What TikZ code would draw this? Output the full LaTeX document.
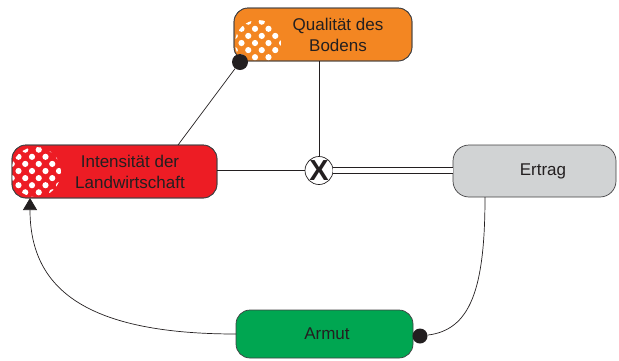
\documentclass[tikz,border=0pt]{standalone}
\usepackage{fontspec}
\setmainfont{Liberation Sans}
\usetikzlibrary{arrows.meta,calc}

\definecolor{orangeC}{RGB}{243,134,34}
\definecolor{redC}{RGB}{237,28,36}
\definecolor{grayC}{RGB}{209,211,212}
\definecolor{greenC}{RGB}{0,166,81}
\definecolor{edgeC}{RGB}{65,64,66}
\definecolor{inkC}{RGB}{35,31,32}

\begin{document}
\begin{tikzpicture}[x=1pt,y=-1pt,
  box/.style={draw=edgeC, line width=0.7pt, rounded corners=14pt, outer sep=0pt, inner sep=0pt},
  txt/.style={font=\fontsize{17}{21}\selectfont, text=inkC, align=center},
  conn/.style={draw=inkC, line width=0.7pt},
  blob/.style={circle, fill=inkC, inner sep=0pt, minimum size=16pt},
  polka/.style={white}
]
\useasboundingbox (0,0) rectangle (619,360);

% boxes
\node[box, fill=orangeC, minimum width=178pt, minimum height=53pt] (qual) at (323,34.5) {};
\node[box, fill=redC, minimum width=205pt, minimum height=53pt] (intens) at (114.5,171.5) {};
\node[box, fill=grayC, minimum width=163pt, minimum height=52pt, rounded corners=16pt] (ertrag) at (534.5,171) {};
\node[box, fill=greenC, minimum width=177pt, minimum height=48pt] (armut) at (324.5,334) {};

% polka-dot patches
\begin{scope}
  \clip[rounded corners=14pt] (intens.north west) rectangle (intens.south east);
  \clip (36,172) circle[radius=25pt];
  \foreach \r in {-4,...,4}{
    \foreach \c in {-3,...,3}{
      \fill[polka] ({32+\c*13.5+mod(abs(\r),2)*6.75},{171+\r*7.1}) circle[radius=3.1pt];
    }
  }
\end{scope}
\draw[draw=edgeC, line width=0.7pt, rounded corners=14pt] (intens.north west) rectangle (intens.south east);

\begin{scope}
  \clip[rounded corners=14pt] (qual.north west) rectangle (qual.south east);
  \clip (258,43) circle[radius=23pt];
  \foreach \r in {-4,...,4}{
    \foreach \c in {-3,...,3}{
      \fill[polka] ({255+\c*13.5+mod(abs(\r),2)*6.75},{43+\r*7.1}) circle[radius=3.1pt];
    }
  }
\end{scope}
\draw[draw=edgeC, line width=0.7pt, rounded corners=14pt] (qual.north west) rectangle (qual.south east);

% labels
\node[txt] (qualT) at (338,34.5) {Qualität des\\Bodens};
\node[txt] (intensT) at (130,172) {Intensität der\\Landwirtschaft};
\node[txt] (ertragT) at (543,171) {Ertrag};
\node[txt] (armutT) at (327,334) {Armut};

% junction and end markers
\node[circle, draw=inkC, line width=0.7pt, fill=white, minimum size=28pt, inner sep=0pt,
      font=\fontsize{29}{29}\selectfont\bfseries, text=inkC] (xc) at (319,170.5) {X};
\node[blob] (qdot) at (240,62) {};
\node[blob, minimum size=15pt] (adot) at (420,336) {};

\coordinate (intTop) at (178,145);
\coordinate (intBot) at (30,198);
\coordinate (ertBot) at (485,197);

% connectors
\draw[conn] (qdot) -- (intTop);
\draw[conn] (xc.north |- qual.south) -- (xc.north);
\draw[conn] (intens.east |- xc.west) -- (xc.west);
\draw[conn, double=white, double distance=5.3pt] (xc.east) -- (xc.east -| ertrag.west);
\draw[conn] (ertBot) .. controls (485,290) and (470,330) .. (adot);
\draw[conn, -{Triangle[length=12pt,width=14pt]}] (armut.west) .. controls (80,334) and (30,285) .. (intBot);
\end{tikzpicture}
\end{document}
